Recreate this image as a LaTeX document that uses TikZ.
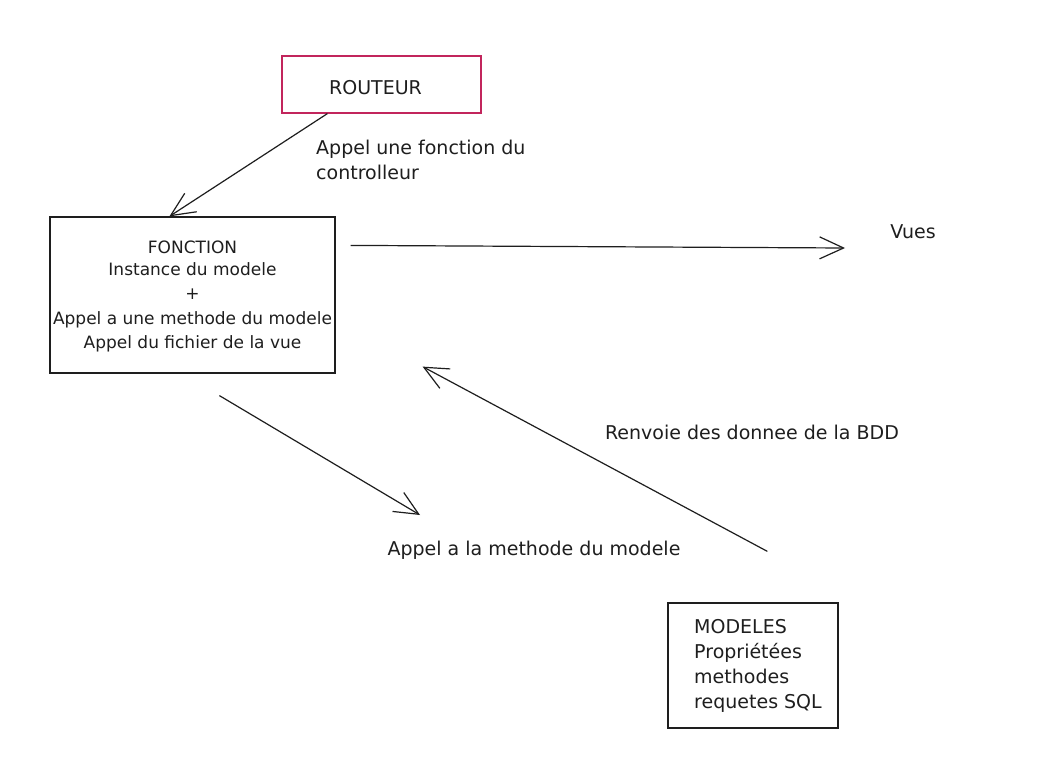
\documentclass[tikz,border=0pt]{standalone}
\usepackage{fontspec}
\setmainfont{DejaVu Sans}
\usetikzlibrary{arrows.meta,calc}
\definecolor{ink}{HTML}{1E1E1E}
\definecolor{routeurc}{HTML}{C2255C}
\begin{document}
\begin{tikzpicture}[x=1pt,y=-1pt,
  every node/.style={font=\fontsize{19}{25}\selectfont, text=ink},
  box/.style={draw=ink, line width=1.2pt, inner sep=0pt},
  lbl/.style={inner sep=0pt},
  arr/.style={draw=ink, line width=1.2pt, -{Straight Barb[length=24pt,width=22pt,line width=1.2pt]}}]
\fill[white] (0,0) rectangle (1064,768);
\useasboundingbox (0,0) rectangle (1064,768);

\node[box, draw=routeurc, minimum width=199pt, minimum height=57pt] (routeur) at (381.5,84.5) {\raisebox{-3pt}[\height][\depth]{ROUTEUR}\hspace*{12pt}};

\node[box, minimum width=285pt, minimum height=156pt, align=center, font=\fontsize{17}{24.5}\selectfont] (fonction) at (192.5,295)
  {\raisebox{-3pt}[\height][\depth]{FONCTION}\\Instance du modele\\+\\Appel a une methode du modele\\Appel du fichier de la vue};

\node[box, minimum width=170pt, minimum height=125pt, align=left] (modeles) at (753,665.5)
  {\hspace*{10pt}\begin{tabular}{@{}l@{}}MODELES\\Propriétées\\methodes\\requetes SQL\end{tabular}};

\node[lbl] (vues) at (913,232) {Vues};
\node[lbl, anchor=west, align=left] (lblroute) at (316,159.5) {Appel une fonction du\\controlleur};
\node[lbl] (lblappel) at (534,550) {Appel a la methode du modele};
\node[lbl] (lblrenvoie) at (752,432) {Renvoie des donnee de la BDD};

\coordinate (vuesin) at (845,248);
\coordinate (appelin) at (420,515);

\draw[arr] ($(routeur.south west)+(46,0)$) -- ($(fonction.north west)+(120,0)$);
\draw[arr] ($(fonction.north east)+(15,29)$) -- (vuesin);
\draw[arr] ($(fonction.south west)+(170,22)$) -- (appelin);
\draw[arr] ($(modeles.north west)+(100,-51)$) -- ($(fonction.south east)+(87,-7)$);
\end{tikzpicture}
\end{document}
